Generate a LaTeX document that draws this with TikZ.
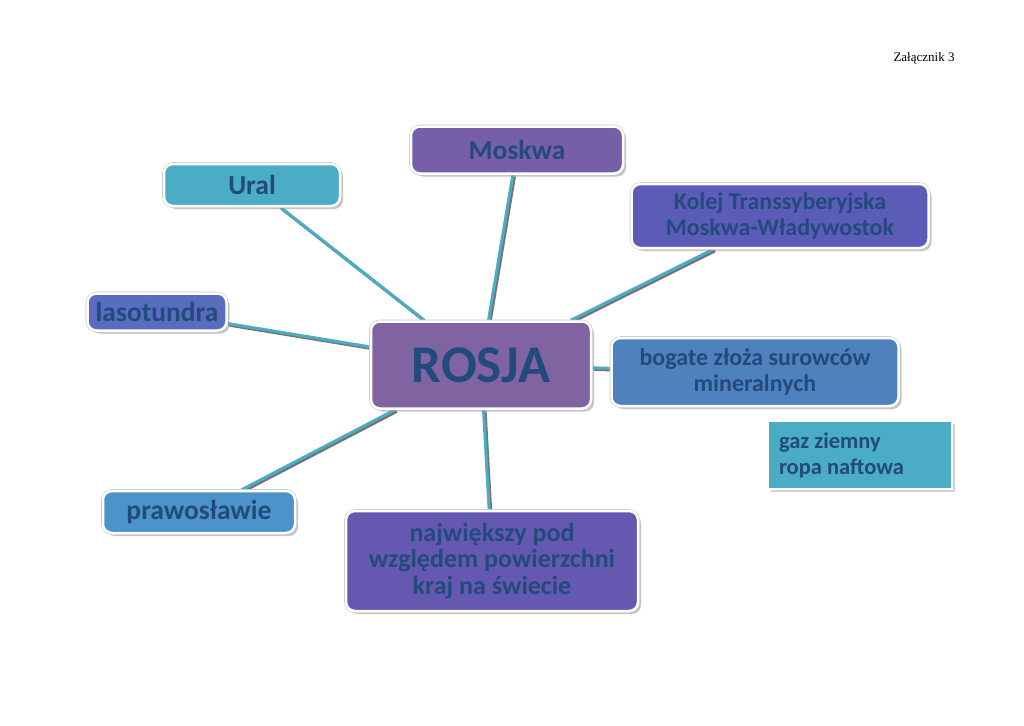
\documentclass[tikz,border=0pt]{standalone}
\usepackage{fontspec}
\setmainfont{Carlito}
\newfontfamily\annexfont{Liberation Serif}
\usetikzlibrary{shadows,positioning,backgrounds}
\definecolor{Ink}{HTML}{234A7C}
\definecolor{LinkCyan}{HTML}{4BACC6}
\definecolor{RosjaViolet}{HTML}{8064A2}
\definecolor{MoskwaViolet}{HTML}{775FA8}
\definecolor{UralCyan}{HTML}{4BACC6}
\definecolor{KolejBlue}{HTML}{5A5CB8}
\definecolor{TundraBlue}{HTML}{596CBE}
\definecolor{OreBlue}{HTML}{4F81BD}
\definecolor{FaithBlue}{HTML}{4B93C8}
\definecolor{SizeViolet}{HTML}{6458B0}

\tikzset{
  mapbox/.style={rounded corners=9pt, draw=white, line width=2.5pt, align=center,
    text=Ink, inner sep=0pt,
    drop shadow={shadow xshift=3pt,shadow yshift=-3pt,fill=black!45},
    preaction={draw=black!22, line width=3.6pt}},
  link/.style={draw=LinkCyan, line width=3pt,
    preaction={draw=black!55, line width=3pt, transform canvas={shift={(1.6pt,-1.6pt)}}}},
  big/.style={font=\bfseries\fontsize{27.5}{30}\selectfont},
  mid/.style={font=\bfseries\fontsize{24}{25.5}\selectfont}
}

\begin{document}
\begin{tikzpicture}[x=1pt,y=-1pt]
\useasboundingbox (0,0) rectangle (1024,725);
\node[font=\annexfont\fontsize{13}{15}\selectfont] (annex) at (924,58) {Załącznik 3};

% hub
\node[mapbox,fill=RosjaViolet,minimum width=220pt,minimum height=87pt,
  font=\bfseries\fontsize{53}{60}\selectfont] (rosja) at (481,365) {ROSJA};

% branches
\node[mapbox,big,fill=MoskwaViolet,minimum width=212pt,minimum height=47pt] (moskwa) at (517,150) {Moskwa};
\node[mapbox,big,fill=UralCyan,minimum width=176pt,minimum height=42pt] (ural) at (252,185) {Ural};
\node[mapbox,mid,fill=KolejBlue,minimum width=297pt,minimum height=64pt] (kolej) at (780,216) {Kolej Transsyberyjska\\Moskwa-Władywostok};
\node[mapbox,big,fill=TundraBlue,minimum width=139pt,minimum height=37pt] (tundra) at (157,312) {lasotundra};
\node[mapbox,mid,fill=OreBlue,minimum width=287pt,minimum height=68pt] (ores) at (755,372) {bogate złoża surowców\\mineralnych};
\node[mapbox,big,fill=FaithBlue,minimum width=192pt,minimum height=42pt] (faith) at (199,512) {prawosławie};
\node[mapbox,fill=SizeViolet,minimum width=292pt,minimum height=100pt,
  font=\bfseries\fontsize{26}{26.5}\selectfont] (size) at (492,561) {największy pod\\względem powierzchni\\kraj na świecie};

% note box
\node[fill=UralCyan,draw=white,line width=1.2pt,text=Ink,align=flush left,text width=162pt,
  minimum width=184pt,minimum height=68pt,inner xsep=11pt,
  drop shadow={shadow xshift=2.5pt,shadow yshift=-2.5pt,fill=black!35},
  preaction={draw=black!20,line width=2pt},
  font=\bfseries\fontsize{22.5}{26}\selectfont] (fuels) at (860,455) {gaz ziemny\\ropa naftowa};

\begin{scope}[on background layer]
\fill[white] (0,0) rectangle (1024,725);
\foreach \leaf in {moskwa,ural,kolej,tundra,ores,faith,size}{\draw[link] (rosja) -- (\leaf);}
\end{scope}
\end{tikzpicture}
\end{document}
